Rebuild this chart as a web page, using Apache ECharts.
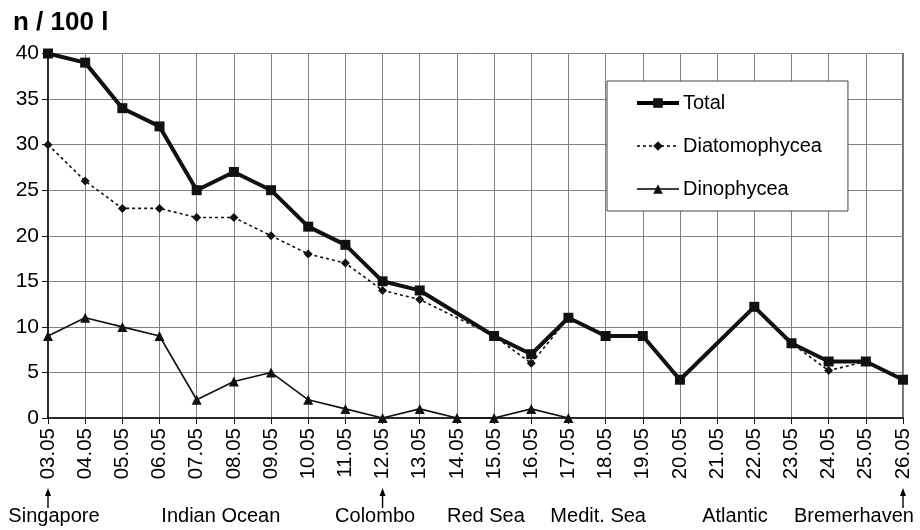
<!DOCTYPE html>
<html>
<head>
<meta charset="utf-8">
<title>Phytoplankton n / 100 l</title>
<script src="https://cdn.jsdelivr.net/npm/echarts@6/dist/echarts.min.js"></script>
<style>
  html, body { margin: 0; padding: 0; background: #fff; }
  #chart { width: 920px; height: 530px; }
</style>
</head>
<body>
<div id="chart"></div>
<script>
// Sampling dates along the cruise (day.month)
const dates = ['03.05','04.05','05.05','06.05','07.05','08.05','09.05','10.05','11.05','12.05',
               '13.05','14.05','15.05','16.05','17.05','18.05','19.05','20.05','21.05','22.05',
               '23.05','24.05','25.05','26.05'];

// Cell counts per 100 litres (null = no sample that day)
const total          = [40, 39, 34, 32, 25, 27, 25, 21, 19, 15, 14, null, 9, 7, 11, 9, 9, 4.2, null, 12.2, 8.2, 6.2, 6.2, 4.2];
const diatomophycea  = [30, 26, 23, 23, 22, 22, 20, 18, 17, 14, 13, null, 9, 6, 11, 9, 9, 4.2, null, 12.2, 8.2, 5.2, 6.2, 4.2];
const dinophycea     = [9, 11, 10, 9, 2, 4, 5, 2, 1, 0, 1, 0, 0, 1, 0, null, null, null, null, null, null, null, null, null];

// Y axis ticks
const yTicks = [0, 5, 10, 15, 20, 25, 30, 35, 40];

// Route annotations below the date axis
const portDates   = ['03.05', '12.05', '26.05'];
const regionNames = ['Singapore', 'Indian Ocean', 'Colombo', 'Red Sea', 'Medit. Sea', 'Atlantic', 'Bremerhaven'];
const regionPos   = [0.16, 4.65, 8.8, 11.78, 14.8, 18.48, 21.68]; // in date-index units

const FONT = '"Liberation Sans", Arial, Helvetica, sans-serif';
const INK = '#000';

const chart = echarts.init(document.getElementById('chart'), null, { renderer: 'canvas' });

const option = {
  backgroundColor: '#fff',
  animation: false,
  title: {
    text: 'n / 100 l',
    left: 8, top: 5,
    textStyle: { fontFamily: FONT, fontSize: 26, fontWeight: 'bold', color: INK }
  },
  grid: {
    left: 48, right: 17, top: 53.5, bottom: 112,
    containLabel: false,
    outerBoundsMode: 'none',
    show: true,
    borderColor: '#111',
    borderWidth: 1.2
  },
  legend: {
    orient: 'vertical',
    left: 607, top: 81,
    padding: [12, 26, 12, 28],
    itemGap: 23,
    itemWidth: 42,
    itemHeight: 12,
    backgroundColor: '#fff',
    borderColor: '#444',
    borderWidth: 1,
    textStyle: { fontFamily: FONT, fontSize: 20, color: INK, padding: [0, 0, 0, -1] },
    data: [
      { name: 'Total', lineStyle: { width: 4, color: INK, type: 'solid' } },
      { name: 'Diatomophycea', lineStyle: { width: 1.5, color: INK, type: [3, 3] } },
      { name: 'Dinophycea', lineStyle: { width: 1.5, color: INK, type: 'solid' } }
    ]
  },
  xAxis: {
    type: 'category',
    data: dates,
    boundaryGap: false,
    axisLine: { lineStyle: { color: '#111', width: 1.5 } },
    axisTick: { show: true, interval: 0, length: 6, lineStyle: { color: '#111' } },
    axisLabel: { interval: 0, rotate: 90, margin: 10, fontFamily: FONT, fontSize: 20.5, color: INK },
    splitLine: { show: true, interval: 0, lineStyle: { color: '#808080', width: 1 } }
  },
  yAxis: {
    type: 'value',
    min: yTicks[0], max: yTicks[yTicks.length - 1], interval: yTicks[1] - yTicks[0],
    axisLine: { show: true, lineStyle: { color: '#111', width: 1.5 } },
    axisTick: { show: true, length: 6, lineStyle: { color: '#111' } },
    axisLabel: { margin: 9, fontFamily: FONT, fontSize: 21, color: INK },
    splitLine: { show: true, lineStyle: { color: '#808080', width: 1 } }
  },
  series: [
    {
      name: 'Dinophycea',
      type: 'line',
      data: dinophycea,
      connectNulls: false,
      symbol: 'triangle',
      symbolSize: 10,
      z: 3,
      lineStyle: { color: '#111', width: 1.6 },
      itemStyle: { color: '#111' }
    },
    {
      name: 'Diatomophycea',
      type: 'line',
      data: diatomophycea,
      connectNulls: true,
      symbol: 'diamond',
      symbolSize: 9,
      z: 4,
      lineStyle: { color: '#111', width: 1.6, type: [3, 3] },
      itemStyle: { color: '#111' }
    },
    {
      name: 'Total',
      type: 'line',
      data: total,
      connectNulls: true,
      symbol: 'rect',
      symbolSize: 10,
      z: 5,
      lineStyle: { color: '#111', width: 4 },
      itemStyle: { color: '#111' }
    }
  ]
};

chart.setOption(option);

// Port arrows and sea-region names placed along the date axis
function buildAnnotations() {
  const x0 = chart.convertToPixel({ xAxisIndex: 0 }, dates[0]);
  const x1 = chart.convertToPixel({ xAxisIndex: 0 }, dates[dates.length - 1]);
  const step = (x1 - x0) / (dates.length - 1);
  const elements = [];

  portDates.forEach(function (d) {
    const x = chart.convertToPixel({ xAxisIndex: 0 }, d);
    elements.push({
      type: 'line',
      shape: { x1: x, y1: 508, x2: x, y2: 494 },
      style: { stroke: INK, lineWidth: 1.4 }
    });
    elements.push({
      type: 'polygon',
      shape: { points: [[x, 488], [x - 3, 496], [x + 3, 496]] },
      style: { fill: INK }
    });
  });

  regionNames.forEach(function (name, i) {
    elements.push({
      type: 'text',
      x: x0 + regionPos[i] * step,
      y: 516,
      style: {
        text: name,
        fontFamily: FONT,
        fontSize: 20,
        fill: INK,
        align: 'center',
        verticalAlign: 'middle'
      }
    });
  });

  chart.setOption({ graphic: elements });
}

buildAnnotations();
</script>
</body>
</html>
